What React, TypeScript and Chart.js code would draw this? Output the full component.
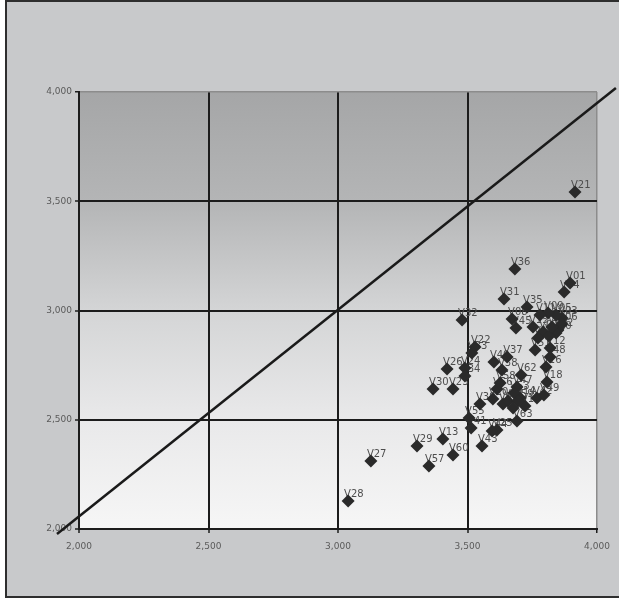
import React, { useEffect, useRef } from "react";
import { Chart, registerables } from "chart.js";

Chart.register(...registerables);

const pointNames = [
  "V01","V02","V03","V04","V05","V06","V07","V08","V09","V10",
  "V11","V12","V13","V14","V15","V16","V17","V18","V19","V20",
  "V21","V22","V23","V24","V25","V26","V27","V28","V29","V30",
  "V31","V32","V33","V34","V35","V36","V37","V38","V39","V40",
  "V41","V42","V43","V44","V45","V46","V47","V48","V49","V50",
  "V51","V52","V53","V54","V55","V56","V57","V58","V59","V60",
  "V61","V62","V63",
];
const xValues = [
  3896,3849,3865,3873,3842,3865,3792,3672,3811,3842,
  3780,3819,3405,3703,3753,3803,3722,3807,3772,3598,
  3915,3529,3444,3490,3614,3421,3127,3039,3305,3367,
  3641,3479,3517,3490,3730,3683,3653,3633,3548,3602,
  3514,3768,3556,3595,3687,3815,3691,3819,3795,3826,
  3761,3637,3680,3656,3506,3614,3351,3626,3695,3444,
  3676,3707,3691,
];
const yValues = [
  3126,2911,2966,3085,2979,2938,2902,2961,2989,2897,
  2979,2828,2412,2600,2925,2741,2563,2673,2874,2595,
  3542,2833,2641,2737,2453,2732,2311,2128,2380,2641,
  3053,2957,2806,2700,3016,3190,2787,2728,2572,2764,
  2462,2600,2380,2449,2920,2883,2650,2787,2613,2925,
  2819,2572,2622,2586,2508,2641,2288,2668,2586,2339,
  2554,2705,2494,
];
const diagonalX = [1915, 4073];
const diagonalY = [1977, 4018];
const tickValues = [2000, 2500, 3000, 3500, 4000];
const tickLabels = ["2,000", "2,500", "3,000", "3,500", "4,000"];

const AXIS_MIN = 2000;
const AXIS_MAX = 4000;

export default function App() {
  const canvasRef = useRef<HTMLCanvasElement | null>(null);

  useEffect(() => {
    document.body.style.margin = "0";
    const canvas = canvasRef.current;
    if (!canvas) return;

    const bgPlugin = {
      id: "plotBg",
      beforeDraw(chart: any) {
        const { ctx, chartArea } = chart;
        const g = ctx.createLinearGradient(0, chartArea.top, 0, chartArea.bottom);
        g.addColorStop(0, "#a5a6a7");
        g.addColorStop(0.25, "#b4b5b6");
        g.addColorStop(0.5, "#d4d5d6");
        g.addColorStop(0.75, "#e9e9ea");
        g.addColorStop(1, "#f6f6f6");
        ctx.save();
        ctx.fillStyle = g;
        ctx.fillRect(chartArea.left, chartArea.top, chartArea.right - chartArea.left, chartArea.bottom - chartArea.top);
        ctx.restore();
      },
    };

    const labelPlugin = {
      id: "pointLabels",
      beforeDatasetsDraw(chart: any) {
        const { ctx } = chart;
        const meta = chart.getDatasetMeta(1);
        ctx.save();
        ctx.font = "10px 'DejaVu Sans'";
        ctx.fillStyle = "#4d4d4d";
        ctx.textAlign = "left";
        ctx.textBaseline = "alphabetic";
        meta.data.forEach((el: any, i: number) => {
          ctx.fillText(pointNames[i], el.x - 4, el.y - 4);
        });
        ctx.restore();
      },
    };

    const tickFmt = (v: any) => {
      const idx = tickValues.indexOf(Number(v));
      return idx >= 0 ? tickLabels[idx] : "";
    };

    const gridColor = (ctx: any) =>
      ctx.tick && ctx.tick.value === AXIS_MAX ? "#8c8c8c" : "#1c1c1c";
    const gridWidth = (ctx: any) =>
      ctx.tick && ctx.tick.value === AXIS_MAX ? 1.5 : 2;

    const chart = new Chart(canvas, {
      type: "scatter",
      data: {
        datasets: [
          {
            type: "line",
            data: diagonalX.map((x, i) => ({ x, y: diagonalY[i] })),
            borderColor: "#1a1a1a",
            borderWidth: 2.5,
            pointRadius: 0,
            clip: false as any,
            order: 2,
          } as any,
          {
            data: xValues.map((x, i) => ({ x, y: yValues[i] })),
            pointStyle: "rectRot",
            pointRadius: 6.5,
            backgroundColor: "#2a2a2a",
            borderColor: "#2a2a2a",
            borderWidth: 0,
            order: 1,
          } as any,
        ],
      },
      options: {
        responsive: false,
        animation: false,
        layout: { padding: { left: 0, top: 92, right: 22, bottom: 0 } },
        plugins: {
          legend: { display: false },
          tooltip: { enabled: false },
        },
        scales: {
          x: {
            type: "linear",
            min: AXIS_MIN,
            max: AXIS_MAX,
            afterBuildTicks(scale: any) {
              scale.ticks = tickValues.map((v) => ({ value: v }));
            },
            afterFit(scale: any) {
              scale.height = 71;
            },
            grid: {
              color: gridColor,
              lineWidth: gridWidth,
              tickColor: "#1c1c1c",
              tickLength: 4,
              tickWidth: 1.5,
            },
            border: { color: "#1c1c1c", width: 2 },
            ticks: {
              callback: tickFmt,
              color: "#5a5a5a",
              font: { family: "'DejaVu Sans'", size: 9 },
              padding: 8,
              maxRotation: 0,
            },
          },
          y: {
            type: "linear",
            min: AXIS_MIN,
            max: AXIS_MAX,
            afterBuildTicks(scale: any) {
              scale.ticks = tickValues.map((v) => ({ value: v }));
            },
            afterFit(scale: any) {
              scale.width = 79;
            },
            grid: {
              color: gridColor,
              lineWidth: gridWidth,
              tickColor: "#1c1c1c",
              tickLength: 4,
              tickWidth: 1.5,
            },
            border: { color: "#1c1c1c", width: 2 },
            ticks: {
              callback: tickFmt,
              color: "#5a5a5a",
              font: { family: "'DejaVu Sans'", size: 9 },
              padding: 3,
            },
          },
        },
      },
      plugins: [bgPlugin, labelPlugin],
    } as any);

    return () => chart.destroy();
  }, []);

  return (
    <div style={{ position: "relative", width: 619, height: 600, overflow: "hidden" }}>
      <div
        style={{
          position: "absolute",
          left: 5,
          top: 0,
          width: 640,
          height: 594,
          border: "2px solid #2e2e2e",
          background: "#c8c9cb",
        }}
      />
      <canvas
        ref={canvasRef}
        width={619}
        height={600}
        style={{ position: "absolute", left: 0, top: 0, width: 619, height: 600 }}
      />
    </div>
  );
}
